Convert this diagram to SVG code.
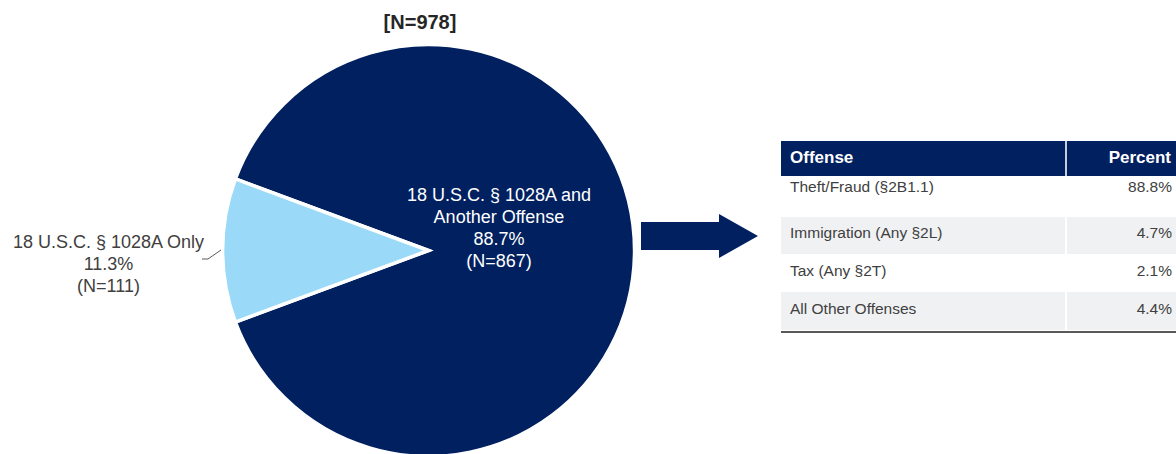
<svg xmlns="http://www.w3.org/2000/svg" width="1176" height="454" viewBox="0 0 1176 454">
<style>
.t{font-family:"Liberation Sans",Arial,sans-serif;}
.lbl{font-size:18px;fill:#404040;text-anchor:middle;}
.lblw{font-size:18px;fill:#ffffff;text-anchor:middle;}
.hd{font-size:17px;font-weight:bold;fill:#ffffff;}
.cell{font-size:15.5px;fill:#404040;}
.num{font-size:15.5px;fill:#404040;text-anchor:end;}
.slice{stroke:#ffffff;stroke-width:3.5;stroke-linejoin:miter;}
</style>
<rect x="0" y="0" width="1176" height="454" fill="#ffffff"/>
<text id="title" class="t" x="420" y="29" font-size="20" font-weight="bold" fill="#262626" text-anchor="middle">[N=978]</text>
<g id="pie">
  <path id="slice-another" class="slice" fill="#002060" d="M428.5,250.5 L235.4,322.1 A206,206 0 1 0 235.4,178.9 Z"/>
  <path id="slice-only" class="slice" fill="#9AD9F7" d="M428.5,250.5 L235.4,178.9 A206,206 0 0 0 235.4,322.1 Z"/>
</g>
<g id="connectors">
  <polyline points="202,259 208,259 221,250" fill="none" stroke="#595959" stroke-width="1"/>
</g>
<g id="label-only" class="t">
  <text class="t lbl" x="108.5" y="248">18 U.S.C. § 1028A Only</text>
  <text class="t lbl" x="108.5" y="270">11.3%</text>
  <text class="t lbl" x="108.5" y="292">(N=111)</text>
</g>
<g id="label-another">
  <text class="t lblw" x="499" y="201">18 U.S.C. § 1028A and</text>
  <text class="t lblw" x="499" y="223">Another Offense</text>
  <text class="t lblw" x="499" y="245">88.7%</text>
  <text class="t lblw" x="499" y="267">(N=867)</text>
</g>
<g id="arrow">
  <polygon points="641,222 719,222 719,214 758,236 719,258 719,250 641,250" fill="#002060"/>
</g>
<g id="table">
  <rect x="781" y="141" width="395" height="35" fill="#002060"/>
  <line x1="1066" y1="141" x2="1066" y2="176" stroke="#c8ccd8" stroke-width="2"/>
  <text class="t hd" x="790" y="163">Offense</text>
  <text class="t hd" x="1171" y="163" text-anchor="end">Percent</text>
  <rect x="781" y="217" width="395" height="37" fill="#F0F1F3"/>
  <rect x="781" y="292" width="395" height="38" fill="#F0F1F3"/>
  <line x1="1066" y1="217" x2="1066" y2="254" stroke="#ffffff" stroke-width="2"/>
  <line x1="1066" y1="292" x2="1066" y2="330" stroke="#ffffff" stroke-width="2"/>
  <line x1="781" y1="332" x2="1176" y2="332" stroke="#595959" stroke-width="2"/>
  <text class="t cell" x="790" y="192">Theft/Fraud (§2B1.1)</text>
  <text class="t num" x="1172" y="192">88.8%</text>
  <text class="t cell" x="790" y="238">Immigration (Any §2L)</text>
  <text class="t num" x="1172" y="238">4.7%</text>
  <text class="t cell" x="790" y="276">Tax (Any §2T)</text>
  <text class="t num" x="1172" y="276">2.1%</text>
  <text class="t cell" x="790" y="314">All Other Offenses</text>
  <text class="t num" x="1172" y="314">4.4%</text>
</g>
</svg>
